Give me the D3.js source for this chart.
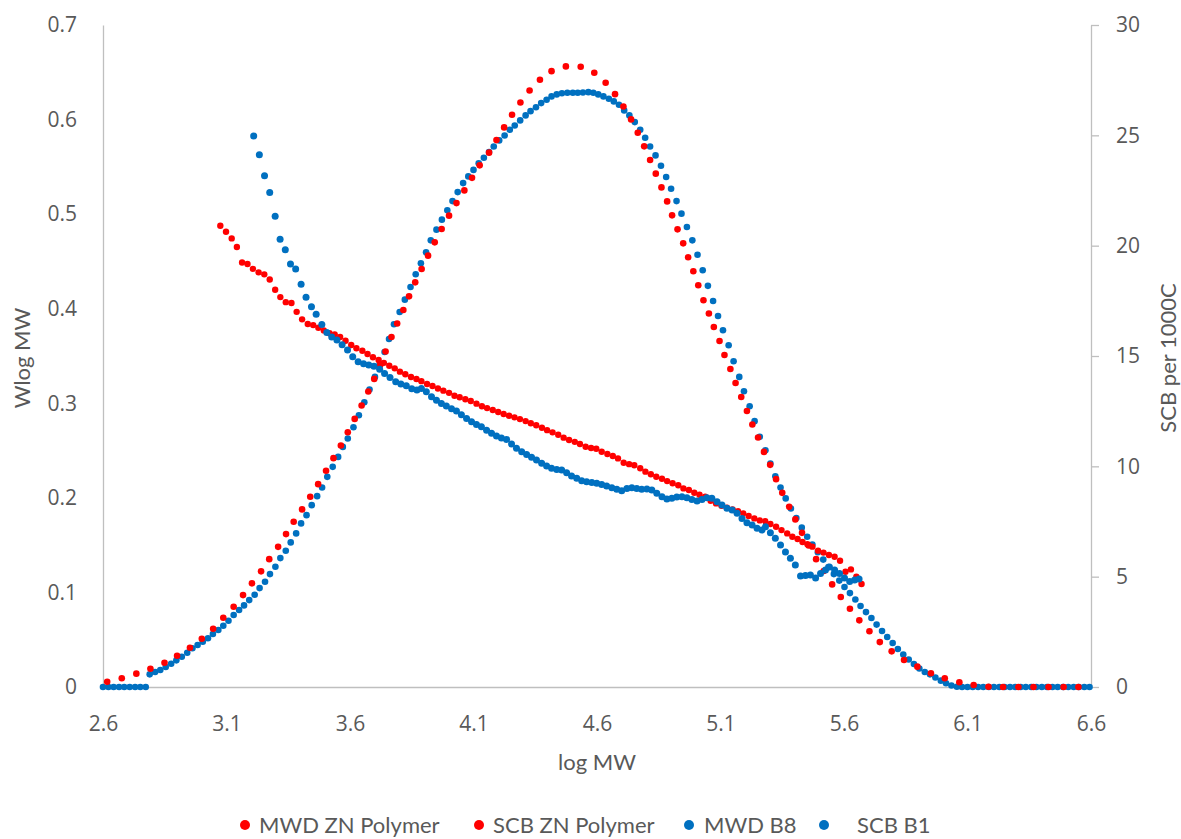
<!DOCTYPE html>
<html>
<head>
<meta charset="utf-8">
<script src="https://cdn.jsdelivr.net/npm/d3@7"></script>
<style>
  html, body { margin: 0; padding: 0; background: #ffffff; }
  svg { display: block; }
  .tick text { fill: #595959; }
</style>
</head>
<body>
<svg id="chart" width="1181" height="839"></svg>
<script>
// Molecular weight distributions (Wlog MW vs log MW), left axis
const mwdZN = [
  [2.617,0.0056],[2.676,0.0092],[2.735,0.0141],[2.792,0.0193],[2.849,0.0257],[2.900,0.0331],[2.952,0.0415],
  [3.000,0.0510],[3.046,0.0616],[3.087,0.0732],[3.129,0.0849],[3.167,0.0972],[3.203,0.1096],[3.240,0.1223],
  [3.273,0.1352],[3.309,0.1482],[3.341,0.1617],[3.372,0.1747],[3.406,0.1878],[3.439,0.2011],[3.471,0.2145],
  [3.503,0.2286],[3.533,0.2420],[3.563,0.2554],[3.591,0.2694],[3.619,0.2835],[3.647,0.2977],[3.674,0.3124],
  [3.698,0.3258],[3.722,0.3402],[3.744,0.3547],[3.768,0.3701],[3.791,0.3843],[3.816,0.3987],[3.839,0.4131],
  [3.864,0.4279],[3.890,0.4420],[3.916,0.4561],[3.943,0.4702],[3.971,0.4843],[4.001,0.4984],[4.031,0.5117],
  [4.063,0.5251],[4.094,0.5384],[4.125,0.5516],[4.163,0.5650],[4.193,0.5783],[4.224,0.5917],[4.256,0.6051],
  [4.290,0.6181],[4.327,0.6308],[4.369,0.6421],[4.416,0.6512],[4.474,0.6562],[4.534,0.6559],[4.589,0.6495],
  [4.635,0.6390],[4.673,0.6269],[4.707,0.6139],[4.738,0.6002],[4.765,0.5861],[4.791,0.5717],[4.815,0.5572],
  [4.838,0.5428],[4.861,0.5283],[4.884,0.5135],[4.904,0.4987],[4.926,0.4839],[4.949,0.4691],[4.969,0.4544],
  [4.990,0.4396],[5.010,0.4248],[5.031,0.4089],[5.053,0.3949],[5.073,0.3807],[5.096,0.3659],[5.116,0.3511],
  [5.140,0.3363],[5.161,0.3215],[5.184,0.3067],[5.207,0.2919],[5.229,0.2776],[5.252,0.2638],[5.276,0.2486],
  [5.301,0.2349],[5.325,0.2198],[5.350,0.2053],[5.378,0.1905],[5.403,0.1772],[5.430,0.1630],[5.457,0.1497],
  [5.487,0.1352],[5.518,0.1226],[5.552,0.1085],[5.587,0.0951],[5.624,0.0827],[5.662,0.0705],[5.703,0.0589],
  [5.745,0.0475],[5.793,0.0377],[5.843,0.0285],[5.897,0.0215],[5.952,0.0145],[6.008,0.0092],[6.067,0.0050],
  [6.125,0.0021],[6.185,0.0003],[6.244,0],[6.306,0],[6.367,0],[6.428,0],[6.489,0],[6.549,0]
];

const mwdB8 = [
  [2.600,0],[2.622,0],[2.643,0],[2.665,0],[2.686,0],[2.708,0],[2.730,0],[2.751,0],[2.773,0],
  [2.789,0.0134],[2.811,0.0158],[2.832,0.0180],[2.854,0.0211],[2.876,0.0246],[2.897,0.0282],[2.919,0.0320],
  [2.941,0.0362],[2.962,0.0409],[2.983,0.0444],[3.004,0.0479],[3.025,0.0516],[3.045,0.0560],[3.067,0.0602],
  [3.087,0.0648],[3.108,0.0701],[3.129,0.0761],[3.151,0.0814],[3.171,0.0863],[3.192,0.0919],[3.214,0.0975],
  [3.234,0.1046],[3.256,0.1113],[3.276,0.1194],[3.298,0.1271],[3.318,0.1363],[3.340,0.1440],[3.360,0.1529],
  [3.382,0.1624],[3.402,0.1730],[3.424,0.1817],[3.445,0.1923],[3.467,0.2018],[3.487,0.2110],[3.508,0.2222],
  [3.530,0.2328],[3.552,0.2433],[3.571,0.2539],[3.591,0.2628],[3.614,0.2747],[3.636,0.2874],[3.658,0.3011],
  [3.679,0.3146],[3.701,0.3279],[3.720,0.3413],[3.740,0.3543],[3.758,0.3680],[3.778,0.3835],[3.801,0.3965],
  [3.822,0.4096],[3.845,0.4230],[3.866,0.4364],[3.887,0.4480],[3.908,0.4596],[3.927,0.4723],[3.950,0.4836],
  [3.972,0.4942],[3.994,0.5040],[4.015,0.5138],[4.036,0.5233],[4.058,0.5328],[4.079,0.5399],[4.100,0.5468],
  [4.121,0.5537],[4.142,0.5597],[4.163,0.5656],[4.182,0.5716],[4.204,0.5780],[4.226,0.5832],[4.247,0.5893],
  [4.267,0.5938],[4.289,0.5991],[4.311,0.6044],[4.331,0.6089],[4.353,0.6131],[4.374,0.6174],[4.396,0.6210],
  [4.416,0.6245],[4.437,0.6266],[4.458,0.6279],[4.480,0.6284],[4.502,0.6284],[4.522,0.6284],[4.543,0.6287],
  [4.565,0.6290],[4.585,0.6284],[4.605,0.6266],[4.626,0.6245],[4.648,0.6220],[4.668,0.6192],[4.689,0.6157],
  [4.710,0.6097],[4.731,0.6044],[4.753,0.5973],[4.775,0.5893],[4.795,0.5808],[4.815,0.5716],[4.837,0.5621],
  [4.859,0.5512],[4.880,0.5392],[4.900,0.5269],[4.922,0.5138],[4.942,0.5005],[4.964,0.4864],[4.986,0.4723],
  [5.007,0.4570],[5.028,0.4406],[5.049,0.4242],[5.070,0.4082],[5.090,0.3923],[5.110,0.3772],[5.133,0.3614],
  [5.153,0.3445],[5.176,0.3279],[5.195,0.3128],[5.218,0.2969],[5.238,0.2811],[5.259,0.2645],[5.282,0.2504],
  [5.302,0.2364],[5.322,0.2229],[5.343,0.2110],[5.364,0.1994],[5.385,0.1888],[5.407,0.1786],[5.429,0.1685],
  [5.451,0.1588],[5.472,0.1506],[5.494,0.1426],[5.516,0.1347],[5.537,0.1268],[5.559,0.1194],[5.581,0.1125],
  [5.602,0.1057],[5.624,0.0993],[5.646,0.0925],[5.667,0.0856],[5.689,0.0792],[5.711,0.0729],[5.732,0.0660],
  [5.754,0.0592],[5.775,0.0528],[5.797,0.0465],[5.818,0.0402],[5.840,0.0343],[5.862,0.0291],[5.883,0.0243],
  [5.905,0.0195],[5.927,0.0158],[5.948,0.0134],[5.970,0.0100],[5.992,0.0067],[6.013,0.0039],[6.035,0.0016],
  [6.057,0.0003],[6.078,0],[6.100,0],[6.121,0],[6.143,0],[6.164,0],[6.186,0],[6.207,0],[6.229,0],[6.250,0],
  [6.272,0],[6.293,0],[6.315,0],[6.336,0],[6.358,0],[6.379,0],[6.401,0],[6.422,0],[6.444,0],[6.465,0],
  [6.487,0],[6.508,0],[6.530,0],[6.551,0],[6.573,0],[6.594,0]
];

// Short chain branching (SCB per 1000C vs log MW), right axis
const scbZN = [
  [3.075,20.90],[3.098,20.63],[3.121,20.33],[3.142,19.94],[3.163,19.24],[3.185,19.17],[3.207,18.95],
  [3.230,18.79],[3.253,18.70],[3.275,18.47],[3.297,18.00],[3.318,17.67],[3.340,17.44],[3.363,17.40],
  [3.384,17.00],[3.406,16.66],[3.429,16.45],[3.451,16.40],[3.472,16.28],[3.494,16.16],[3.517,16.03],
  [3.538,15.98],[3.560,15.86],[3.582,15.69],[3.605,15.50],[3.626,15.35],[3.650,15.24],[3.671,15.09],
  [3.693,14.94],[3.716,14.82],[3.737,14.69],[3.759,14.56],[3.781,14.44],[3.802,14.29],[3.824,14.17],
  [3.847,14.05],[3.869,13.96],[3.889,13.86],[3.912,13.73],[3.934,13.64],[3.956,13.53],[3.978,13.43],
  [4.001,13.33],[4.023,13.20],[4.044,13.13],[4.067,13.04],[4.089,12.96],[4.112,12.84],[4.134,12.72],
  [4.155,12.64],[4.178,12.55],[4.200,12.46],[4.222,12.37],[4.244,12.29],[4.266,12.22],[4.288,12.14],
  [4.311,12.05],[4.332,11.95],[4.354,11.86],[4.377,11.75],[4.398,11.64],[4.420,11.54],[4.443,11.43],
  [4.465,11.30],[4.487,11.19],[4.510,11.11],[4.531,11.01],[4.554,10.89],[4.576,10.83],[4.597,10.80],
  [4.619,10.66],[4.642,10.56],[4.664,10.47],[4.685,10.36],[4.708,10.16],[4.730,10.10],[4.751,10.05],
  [4.775,9.91],[4.796,9.76],[4.818,9.64],[4.840,9.53],[4.863,9.44],[4.884,9.33],[4.906,9.23],[4.929,9.14],
  [4.950,9.00],[4.972,8.93],[4.994,8.80],[5.015,8.71],[5.038,8.62],[5.060,8.44],[5.082,8.32],[5.104,8.21],
  [5.126,8.12],[5.149,8.05],[5.171,7.97],[5.192,7.87],[5.214,7.75],[5.237,7.64],[5.259,7.55],[5.281,7.51],
  [5.302,7.39],[5.325,7.26],[5.347,7.11],[5.370,6.96],[5.391,6.81],[5.412,6.71],[5.432,6.57],[5.452,6.47],
  [5.472,6.36],[5.495,6.18],[5.517,6.09],[5.539,5.98],[5.562,5.90],[5.584,5.72],[5.606,5.22],[5.628,5.33],
  [5.650,5.00],[5.671,4.67]
];

const scbB1 = [
  [3.210,24.97],[3.233,24.12],[3.254,23.17],[3.275,22.41],[3.297,21.33],[3.317,20.29],[3.338,19.81],
  [3.359,19.17],[3.380,18.94],[3.402,18.25],[3.422,17.66],[3.444,17.23],[3.463,16.89],[3.486,16.43],
  [3.506,16.07],[3.526,15.86],[3.547,15.72],[3.568,15.51],[3.590,15.27],[3.611,14.97],[3.633,14.74],
  [3.655,14.65],[3.676,14.59],[3.697,14.54],[3.720,14.40],[3.740,14.21],[3.762,14.03],[3.785,13.83],
  [3.806,13.73],[3.828,13.65],[3.850,13.52],[3.871,13.46],[3.889,13.53],[3.909,13.38],[3.930,13.15],
  [3.950,13.00],[3.970,12.85],[3.990,12.73],[4.011,12.61],[4.031,12.51],[4.051,12.34],[4.072,12.17],
  [4.092,12.02],[4.112,11.90],[4.132,11.79],[4.153,11.64],[4.173,11.50],[4.193,11.37],[4.213,11.28],
  [4.234,11.22],[4.254,11.01],[4.274,10.82],[4.295,10.66],[4.315,10.54],[4.335,10.41],[4.355,10.29],
  [4.376,10.14],[4.396,10.01],[4.416,9.91],[4.437,9.86],[4.457,9.83],[4.477,9.71],[4.497,9.56],[4.518,9.46],
  [4.538,9.35],[4.558,9.30],[4.579,9.27],[4.599,9.23],[4.619,9.18],[4.639,9.11],[4.660,9.03],[4.680,8.96],
  [4.700,8.89],[4.721,9.00],[4.741,9.03],[4.761,9.00],[4.781,8.96],[4.802,8.97],[4.822,8.93],[4.842,8.78],
  [4.863,8.62],[4.883,8.52],[4.903,8.55],[4.923,8.61],[4.944,8.62],[4.964,8.58],[4.984,8.50],[5.005,8.43],
  [5.025,8.50],[5.045,8.58],[5.065,8.55],[5.086,8.40],[5.106,8.25],[5.126,8.10],[5.147,8.02],[5.167,7.87],
  [5.187,7.64],[5.207,7.44],[5.228,7.34],[5.248,7.19],[5.268,7.11],[5.282,7.26],[5.302,6.99],[5.322,6.74],
  [5.343,6.43],[5.363,6.12],[5.383,5.83],[5.403,5.53],[5.424,5.03],[5.444,5.05],[5.464,5.07],[5.485,4.94],
  [5.505,5.14],[5.525,5.30],[5.541,5.44],[5.562,5.30],[5.582,5.14],[5.602,4.94],[5.623,4.78],[5.643,4.85],
  [5.661,4.89]
];

// Axis ticks and labels
const xTicks = [2.6, 3.1, 3.6, 4.1, 4.6, 5.1, 5.6, 6.1, 6.6];
const yLeftTicks = [0, 0.1, 0.2, 0.3, 0.4, 0.5, 0.6, 0.7];
const yRightTicks = [0, 5, 10, 15, 20, 25, 30];
const legendNames = ["MWD ZN Polymer", "SCB ZN Polymer", "MWD B8", "SCB B1"];

const RED = "#ff0000";
const BLUE = "#0070c0";
const AXIS = "#bfbfbf";
const TEXT = "#595959";

const svg = d3.select("#chart");
const plot = { left: 103, right: 1091, top: 25, bottom: 687 };

const x = d3.scaleLinear().domain([2.6, 6.6]).range([plot.left, plot.right]);
const yL = d3.scaleLinear().domain([0, 0.7]).range([plot.bottom, plot.top]);
const yR = d3.scaleLinear().domain([0, 30]).range([plot.bottom, plot.top]);

const tickFont = "'Open Sans', sans-serif";
const titleFont = "Lato, 'Open Sans', sans-serif";

// Left axis
const gL = svg.append("g").attr("transform", `translate(${plot.left},0)`)
  .call(d3.axisLeft(yL).tickValues(yLeftTicks).tickSize(0).tickPadding(26)
    .tickFormat(d => d === 0 ? "0" : d3.format(".1f")(d)));
gL.select(".domain").attr("stroke", AXIS).attr("stroke-width", 1.3);
gL.selectAll("text").attr("font-family", tickFont).attr("font-size", 21).attr("fill", TEXT);

// Right axis
const gR = svg.append("g").attr("transform", `translate(${plot.right},0)`)
  .call(d3.axisRight(yR).tickValues(yRightTicks).tickSizeInner(8).tickSizeOuter(0).tickPadding(17));
gR.select(".domain").attr("stroke", AXIS).attr("stroke-width", 1.3);
gR.selectAll(".tick line").attr("stroke", AXIS).attr("stroke-width", 1.3);
gR.selectAll("text").attr("font-family", tickFont).attr("font-size", 21).attr("fill", TEXT);

// Bottom axis
const gB = svg.append("g").attr("transform", `translate(0,${plot.bottom})`)
  .call(d3.axisBottom(x).tickValues(xTicks).tickSize(0).tickPadding(29).tickFormat(d3.format(".1f")));
gB.select(".domain").attr("stroke", AXIS).attr("stroke-width", 1.3);
gB.selectAll("text").attr("font-family", tickFont).attr("font-size", 21).attr("fill", TEXT);

// Axis titles
svg.append("text")
  .attr("transform", `translate(30,${(plot.top + plot.bottom) / 2 + 2}) rotate(-90)`)
  .attr("text-anchor", "middle").attr("font-family", titleFont).attr("font-size", 22)
  .attr("fill", TEXT).text("Wlog MW");
svg.append("text")
  .attr("x", (plot.left + plot.right) / 2).attr("y", 770)
  .attr("text-anchor", "middle").attr("font-family", titleFont).attr("font-size", 22)
  .attr("fill", TEXT).text("log MW");
svg.append("text")
  .attr("transform", `translate(1176,${(plot.top + plot.bottom) / 2 + 2}) rotate(-90)`)
  .attr("text-anchor", "middle").attr("font-family", titleFont).attr("font-size", 22)
  .attr("fill", TEXT).text("SCB per 1000C");

// Scatter series: primary-axis series first, secondary-axis series on top
function dots(data, yScale, color, r, cls) {
  svg.append("g").attr("class", cls)
    .selectAll("circle").data(data).join("circle")
    .attr("cx", d => x(d[0]))
    .attr("cy", d => yScale(d[1]))
    .attr("r", r)
    .attr("fill", color);
}
dots(mwdB8, yL, BLUE, 3.3, "mwd-b8");
dots(mwdZN, yL, RED, 3.3, "mwd-zn");
dots(scbZN, yR, RED, 3.2, "scb-zn");
dots(scbB1, yR, BLUE, 3.5, "scb-b1");

// Legend
const legendColors = [RED, RED, BLUE, BLUE];
const legendDotX = [245, 479, 689, 824];
const legendTextX = [259, 493, 704, 857];
const legend = svg.append("g").attr("class", "legend");
legendNames.forEach((name, i) => {
  legend.append("circle").attr("cx", legendDotX[i]).attr("cy", 825).attr("r", 5).attr("fill", legendColors[i]);
  legend.append("text").attr("x", legendTextX[i]).attr("y", 833)
    .attr("font-family", titleFont).attr("font-size", 22).attr("fill", TEXT).text(name);
});
</script>
</body>
</html>
